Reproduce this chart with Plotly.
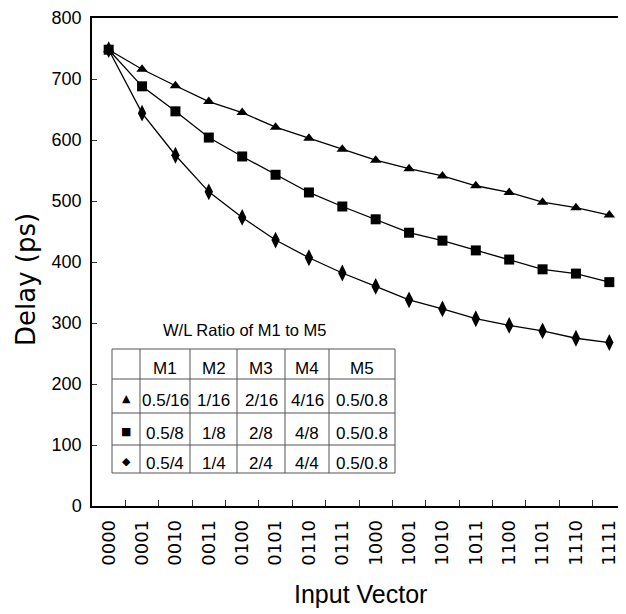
import plotly.graph_objects as go

# ---- data ----
input_vectors = ["0000", "0001", "0010", "0011", "0100", "0101", "0110", "0111",
                 "1000", "1001", "1010", "1011", "1100", "1101", "1110", "1111"]
delay_tri = [748, 716, 689, 663, 645, 621, 603, 585, 567, 553, 541, 525, 514, 498, 489, 477]
delay_sq = [748, 688, 647, 604, 573, 543, 514, 491, 470, 448, 435, 419, 404, 388, 381, 367]
delay_dia = [748, 644, 575, 515, 473, 436, 407, 382, 360, 338, 323, 307, 296, 287, 275, 268]

table_title = "W/L Ratio of M1 to M5"
table_header = ["", "M1", "M2", "M3", "M4", "M5"]
table_rows = [
    ["▲", "0.5/16", "1/16", "2/16", "4/16", "0.5/0.8"],
    ["■", "0.5/8", "1/8", "2/8", "4/8", "0.5/0.8"],
    ["◆", "0.5/4", "1/4", "2/4", "4/4", "0.5/0.8"],
]

# ---- geometry: the page has an 8px body margin ----
OFF = 8
W, H = 626 - OFF, 614 - OFF
PLOT_L, PLOT_R, PLOT_T, PLOT_B = 92, 626, 18, 506  # page pixels
L = PLOT_L - OFF
R = 0
T = PLOT_T - OFF
B = H - (PLOT_B - OFF)
PW, PH = W - L - R, H - T - B


def px(x):  # page pixel -> paper
    return (x - PLOT_L) / PW


def py(y):
    return (PLOT_B - y) / PH


SANS = "Liberation Sans, Arial, sans-serif"
WIDE = "DejaVu Sans, Verdana, sans-serif"

fig = go.Figure()
line_style = dict(color="black", width=1.3)
fig.add_trace(go.Scatter(x=input_vectors, y=delay_tri, mode="lines+markers", line=line_style,
                         marker=dict(symbol="triangle-up", size=10, color="black"), name="tri"))
fig.add_trace(go.Scatter(x=input_vectors, y=delay_dia, mode="lines+markers", line=line_style,
                         marker=dict(symbol="diamond-tall", size=12, color="black"), name="dia"))
fig.add_trace(go.Scatter(x=input_vectors, y=delay_sq, mode="lines+markers", line=line_style,
                         marker=dict(symbol="square", size=10, color="black"), name="sq"))

# ---- table drawn with shapes & annotations ----
col_edges = [112, 140, 190, 237, 285, 329, 395]
row_edges = [349, 379, 413, 445, 473]
text_offset = 4
border = dict(color="#555555", width=1)
shapes = []
for xe in col_edges:
    shapes.append(dict(type="line", xref="paper", yref="paper",
                       x0=px(xe), x1=px(xe), y0=py(row_edges[0]), y1=py(row_edges[-1]), line=border))
for ye in row_edges:
    shapes.append(dict(type="line", xref="paper", yref="paper",
                       x0=px(col_edges[0]), x1=px(col_edges[-1]), y0=py(ye), y1=py(ye), line=border))

annotations = []
annotations.append(dict(text=table_title, xref="paper", yref="paper", x=px(245), y=py(330),
                        showarrow=False, font=dict(family=SANS, size=16.5, color="black"),
                        xanchor="center", yanchor="middle"))
all_rows = [table_header] + table_rows
for ri, row in enumerate(all_rows):
    yc = (row_edges[ri] + row_edges[ri + 1]) / 2 + text_offset
    for ci, cell in enumerate(row):
        if not cell:
            continue
        xc = (col_edges[ci] + col_edges[ci + 1]) / 2
        if ci == 0:
            fnt = dict(family=WIDE, size=11, color="black")
            yy = yc - 2
        else:
            fnt = dict(family=SANS, size=17, color="black")
            yy = yc
        annotations.append(dict(text=cell, xref="paper", yref="paper", x=px(xc), y=py(yy),
                                showarrow=False, font=fnt, xanchor="center", yanchor="middle"))

# axis titles
annotations.append(dict(text="Input Vector", xref="paper", yref="paper", x=px(360), y=py(594),
                        showarrow=False, font=dict(family=SANS, size=25, color="black"),
                        xanchor="center", yanchor="middle"))
annotations.append(dict(text="Delay (ps)", xref="paper", yref="paper", x=px(26), y=py(280),
                        textangle=-90, showarrow=False, font=dict(family=WIDE, size=26, color="black"),
                        xanchor="center", yanchor="middle"))

fig.update_layout(
    width=W, height=H,
    margin=dict(l=L, r=R, t=T, b=B, pad=0),
    paper_bgcolor="white", plot_bgcolor="white",
    showlegend=False,
    shapes=shapes, annotations=annotations,
    xaxis=dict(type="category", range=[-0.5, 15.5], showgrid=False, zeroline=False,
               showline=True, linecolor="black", linewidth=1.5, mirror=True,
               ticks="inside", ticklen=6, tickcolor="#333333", tickson="boundaries",
               tickangle=-90, ticklabelstandoff=5,
               tickfont=dict(family=WIDE, size=18, color="black")),
    yaxis=dict(range=[0, 800], dtick=100, showgrid=False, zeroline=False,
               showline=True, linecolor="black", linewidth=1.5, mirror=False,
               ticks="inside", ticklen=5, tickcolor="#333333", ticklabelstandoff=5,
               tickfont=dict(family=SANS, size=18, color="black")),
)

fig.write_html("out.html")
